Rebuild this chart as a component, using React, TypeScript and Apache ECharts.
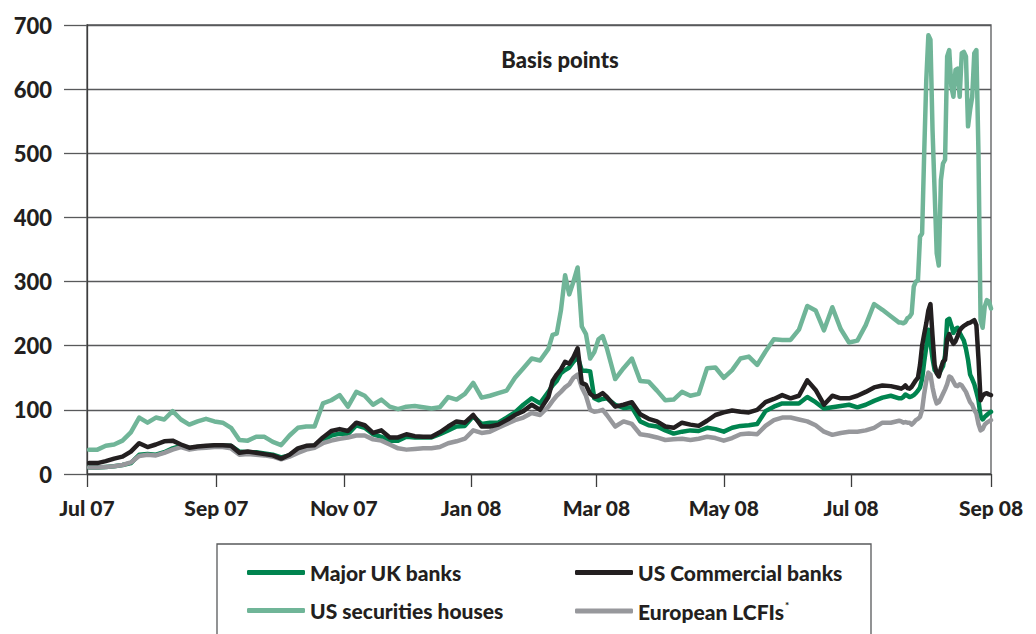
import React, { useEffect, useRef } from 'react';
import * as echarts from 'echarts';

// Sample dates (every 4 days, denser around the Feb 2008 and Aug 2008 peaks)
const dates = [
  '2007-07-02','2007-07-06','2007-07-10','2007-07-14','2007-07-18','2007-07-22','2007-07-26','2007-07-30',
  '2007-08-03','2007-08-07','2007-08-11','2007-08-15','2007-08-19','2007-08-23','2007-08-27','2007-08-31',
  '2007-09-04','2007-09-08','2007-09-12','2007-09-16','2007-09-20','2007-09-24','2007-09-28',
  '2007-10-02','2007-10-06','2007-10-10','2007-10-14','2007-10-18','2007-10-22','2007-10-26','2007-10-30',
  '2007-11-03','2007-11-07','2007-11-11','2007-11-15','2007-11-19','2007-11-23','2007-11-27',
  '2007-12-01','2007-12-05','2007-12-09','2007-12-13','2007-12-17','2007-12-21','2007-12-25','2007-12-29',
  '2008-01-02','2008-01-06','2008-01-10','2008-01-14','2008-01-18','2008-01-22','2008-01-26','2008-01-30',
  '2008-02-03','2008-02-07','2008-02-09','2008-02-11','2008-02-13','2008-02-15','2008-02-17','2008-02-19',
  '2008-02-21','2008-02-23','2008-02-25','2008-02-27','2008-02-29',
  '2008-03-02','2008-03-04','2008-03-06','2008-03-10','2008-03-14','2008-03-18','2008-03-22','2008-03-26','2008-03-30',
  '2008-04-03','2008-04-07','2008-04-11','2008-04-15','2008-04-19','2008-04-23','2008-04-27',
  '2008-05-01','2008-05-05','2008-05-09','2008-05-13','2008-05-17','2008-05-21','2008-05-25','2008-05-29',
  '2008-06-02','2008-06-06','2008-06-10','2008-06-14','2008-06-18','2008-06-22','2008-06-26','2008-06-30',
  '2008-07-04','2008-07-08','2008-07-12','2008-07-16','2008-07-20','2008-07-24',
  '2008-07-25','2008-07-26','2008-07-27','2008-07-28','2008-07-29','2008-07-30','2008-07-31',
  '2008-08-01','2008-08-02','2008-08-03','2008-08-04','2008-08-05','2008-08-06','2008-08-07','2008-08-08',
  '2008-08-09','2008-08-10','2008-08-11','2008-08-12','2008-08-13','2008-08-14','2008-08-15','2008-08-16',
  '2008-08-17','2008-08-18','2008-08-19','2008-08-20','2008-08-21','2008-08-22','2008-08-23','2008-08-24',
  '2008-08-25','2008-08-26','2008-08-27','2008-08-28','2008-08-29','2008-08-30','2008-08-31',
  '2008-09-01','2008-09-02','2008-09-03','2008-09-04','2008-09-05','2008-09-06',
];

const majorUKBanks = [
  10,10,11,12,14,17,30,31,30,34,
  40,44,40,42,43,44,44,44,35,34,
  34,32,30,26,29,38,42,44,52,60,
  63,62,76,72,62,58,52,52,58,57,
  57,57,62,68,74,75,90,78,80,80,
  88,96,108,118,
  110,128,138,145,157,162,166,175,183,161,161,160,118,115,117,118,108,
  103,104,82,76,74,68,
  63,66,68,67,72,70,66,72,75,76,
  78,98,105,110,110,110,120,112,102,104,
  106,108,104,108,114,119,122,118,
  118,120,124,122,120,121,123,126,130,135, 148,175,198,225,205,180,162,158,155,162,
  168,185,240,242,232,220,226,228,220,214, 208,195,178,155,148,140,128,115,90,85,
  89,92,95,97,
];

const usCommercialBanks = [
  17,17,20,24,27,35,48,42,46,51,
  52,46,41,43,44,45,45,44,33,35,
  33,31,29,24,30,40,44,45,57,67,
  70,67,80,76,64,68,57,57,62,59,
  58,58,65,74,82,80,92,74,74,77,
  84,92,98,108,
  100,120,145,155,163,175,172,182,196,142,139,125,120,122,126,120,105,
  108,112,93,86,82,74,
  72,80,77,75,83,92,96,99,97,96,
  100,112,117,123,118,122,146,131,108,122,
  118,118,122,128,135,138,137,134,
  133,135,138,134,133,136,141,146,150,170, 200,218,235,255,265,215,170,157,152,165,
  175,178,210,218,209,203,207,215,224,228, 231,233,235,236,238,240,232,180,115,122,
  125,126,124,123,
];

const usSecuritiesHouses = [
  38,38,44,46,52,65,88,80,88,85,
  98,85,77,82,86,82,80,72,53,52,
  58,58,50,45,60,72,74,74,110,115,
  123,105,128,122,108,116,105,101,105,106,
  104,102,104,120,116,125,142,119,122,126,
  130,150,165,180,
  177,195,217,219,255,310,280,300,322,230,218,180,190,210,215,196,148,
  165,180,145,144,130,115,
  116,128,122,125,165,166,150,162,180,183,
  170,191,210,209,209,225,262,255,224,260,
  226,205,208,232,265,256,246,236,
  236,235,237,243,245,250,292,300,302,370, 375,500,614,684,677,536,440,344,325,458,
  484,490,651,661,604,588,630,632,588,656, 658,651,542,568,588,656,661,500,240,228,
  261,271,269,258,
];

const europeanLCFIs = [
  10,10,11,12,14,18,28,30,29,33,
  38,42,38,40,41,42,42,40,30,31,
  30,29,27,23,27,33,38,41,48,52,
  55,57,60,60,54,52,46,40,38,39,
  40,40,42,48,51,55,68,64,66,72,
  78,84,88,95,
  92,105,114,122,128,135,140,150,155,135,122,100,97,98,100,92,74,
  82,78,62,60,57,53,
  54,55,53,55,58,56,52,56,62,63,
  62,75,84,88,88,85,82,76,66,61,
  64,66,66,68,72,80,80,83,
  82,80,81,80,80,77,80,84,86,89, 100,125,145,158,155,135,120,110,112,118,
  125,132,140,152,150,144,138,137,140,138, 133,128,120,112,108,100,94,78,68,70,
  77,80,82,84,
];

const monthNames = ['Jan','Feb','Mar','Apr','May','Jun','Jul','Aug','Sep','Oct','Nov','Dec'];
const xTickDates = [
  '2007-07-01', '2007-09-01', '2007-11-01', '2008-01-01',
  '2008-03-01', '2008-05-01', '2008-07-01', '2008-09-06',
];
const xStart = '2007-07-01';
const xEnd = '2008-09-06';
const yMin = 0;
const yMax = 700;
const yInterval = 100;

const FONT = 'Lato, "Liberation Sans", sans-serif';
const WEIGHT = 900;
const TEXT_COLOR = '#231f20';
const GRID_COLOR = '#58595b';
const DAY = 86400000;

const parseDay = (s: string) => {
  const [y, m, d] = s.split('-').map(Number);
  return Date.UTC(y, m - 1, d);
};
const startTs = parseDay(xStart);
const dayOffset = (s: string) => Math.round((parseDay(s) - startTs) / DAY);
const offsetLabel = (off: number) => {
  const d = new Date(startTs + off * DAY);
  return `${monthNames[d.getUTCMonth()]} ${String(d.getUTCFullYear()).slice(2)}`;
};

export default function App() {
  const ref = useRef<HTMLDivElement>(null);

  useEffect(() => {
    if (!ref.current) return;
    const chart = echarts.init(ref.current, null, { renderer: 'svg' });
    const tickValues = xTickDates.map(dayOffset);

    const mk = (name: string, values: number[], color: string, z: number) => ({
      name,
      type: 'line',
      data: dates.map((d, i) => [dayOffset(d), values[i]]),
      showSymbol: false,
      symbol: 'none',
      color,
      z,
      lineStyle: { color, width: 4.5, join: 'round', cap: 'round' },
      emphasis: { disabled: true },
    });

    const legendText = {
      fontFamily: FONT,
      fontWeight: WEIGHT,
      fontSize: 21,
      color: TEXT_COLOR,
      rich: {
        n: { fontFamily: FONT, fontWeight: WEIGHT, fontSize: 21, color: TEXT_COLOR },
        s: { fontFamily: FONT, fontWeight: WEIGHT, fontSize: 10, color: TEXT_COLOR, padding: [0, 0, 12, 1] },
      },
    };
    const legendFormatter = (name: string) =>
      name.endsWith('*') ? `{n|${name.slice(0, -1)}}{s|*}` : name;

    chart.setOption({
      animation: false,
      backgroundColor: '#ffffff',
      grid: {
        left: 87, right: 45, top: 25, bottom: 160,
        show: true, borderColor: GRID_COLOR, borderWidth: 1.3, backgroundColor: 'transparent',
      },
      xAxis: {
        type: 'value',
        min: 0,
        max: dayOffset(xEnd),
        axisLine: { show: true, onZero: false, lineStyle: { color: '#3d3d3d', width: 1.3 } },
        axisTick: { show: true, length: 13, lineStyle: { color: '#3d3d3d', width: 1.3 }, customValues: tickValues },
        axisLabel: {
          customValues: tickValues,
          formatter: (v: number) => offsetLabel(v),
          fontFamily: FONT, fontWeight: WEIGHT, fontSize: 21, color: TEXT_COLOR, margin: 23,
          showMinLabel: true, showMaxLabel: true,
        },
        splitLine: { show: false },
      },
      yAxis: {
        type: 'value',
        min: yMin, max: yMax, interval: yInterval,
        axisLine: { show: true, lineStyle: { color: '#3d3d3d', width: 1.3 } },
        axisTick: { show: true, length: 23, lineStyle: { color: GRID_COLOR, width: 1.3 } },
        splitLine: { show: true, lineStyle: { color: GRID_COLOR, width: 1.3 } },
        axisLabel: { fontFamily: FONT, fontWeight: WEIGHT, fontSize: 22, color: TEXT_COLOR, margin: 35 },
      },
      legend: [
        {
          data: ['Major UK banks', 'US securities houses'],
          orient: 'vertical', left: 247, top: 562, padding: 0,
          itemWidth: 58, itemHeight: 5, itemGap: 17, icon: 'roundRect',
          textStyle: legendText, formatter: legendFormatter, selectedMode: false,
        },
        {
          data: ['US Commercial banks', 'European LCFIs*'],
          orient: 'vertical', left: 575, top: 562, padding: 0,
          itemWidth: 58, itemHeight: 5, itemGap: 17, icon: 'roundRect',
          textStyle: legendText, formatter: legendFormatter, selectedMode: false,
        },
      ],
      graphic: [
        {
          type: 'text', x: 560, y: 59, silent: true,
          style: { text: 'Basis points', font: `${WEIGHT} 22px ${FONT}`, fill: TEXT_COLOR, align: 'center', verticalAlign: 'middle' },
        },
        {
          type: 'rect', silent: true,
          shape: { x: 217, y: 544, width: 654, height: 130 },
          style: { fill: 'none', stroke: GRID_COLOR, lineWidth: 1.3 },
        },
      ],
      series: [
        mk('Major UK banks', majorUKBanks, '#00844f', 2),
        mk('European LCFIs*', europeanLCFIs, '#97989c', 3),
        mk('US securities houses', usSecuritiesHouses, '#70b598', 3),
        mk('US Commercial banks', usCommercialBanks, '#231f20', 4),
      ],
    });

    return () => chart.dispose();
  }, []);

  return (
    <div
      ref={ref}
      style={{ position: 'fixed', left: 0, top: 0, width: 1036, height: 634, background: '#ffffff' }}
    />
  );
}
